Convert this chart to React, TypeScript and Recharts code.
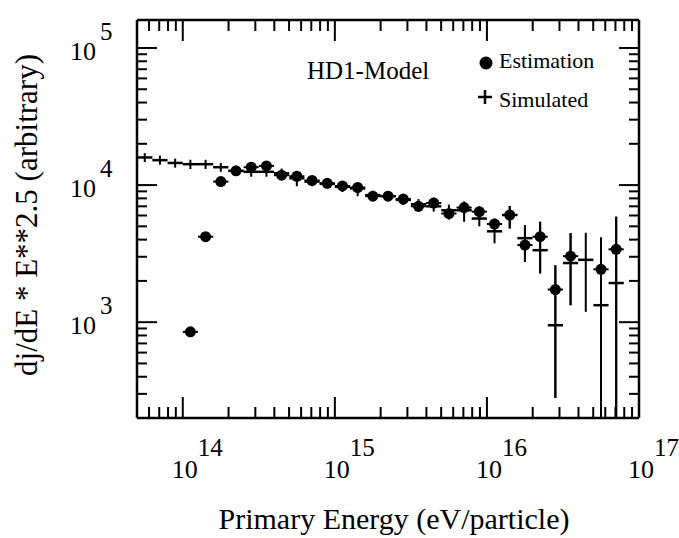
import { ScatterChart, Scatter, XAxis, YAxis, ErrorBar, Legend, Label, ReferenceLine } from "recharts";

// log10 of energy bin centres (eV)
const binLog = [
  13.75, 13.85, 13.95, 14.05, 14.15, 14.25, 14.35, 14.45, 14.55, 14.65, 14.75,
  14.85, 14.95, 15.05, 15.15, 15.25, 15.35, 15.45, 15.55, 15.65, 15.75, 15.85,
  15.95, 16.05, 16.15, 16.25, 16.35, 16.45, 16.55, 16.65, 16.75, 16.85,
];

// Estimation (filled circles)
const estValue = [
  null, null, null, 850, 4200, 10600, 12700, 13500, 13800, 11800, 11600,
  10800, 10300, 9850, 9600, 8300, 8300, 7900, 7000, 7400, 6200, 6850,
  6400, 5200, 6050, 3650, 4200, 1730, 3030, null, 2430, 3400,
];
const estLow = [
  null, null, null, 800, 3950, 9900, 11900, 12600, 12900, 11000, 10800,
  10000, 9550, 9100, 8850, 7650, 7650, 7250, 6400, 6750, 5600, 6150,
  5600, 4700, 4830, 2750, 2270, 280, 1330, null, 200, 200,
];
const estHigh = [
  null, null, null, 900, 4450, 11300, 13500, 14400, 14700, 12600, 12400,
  11600, 11100, 10600, 10400, 9000, 9000, 8600, 7650, 8100, 6850, 7600,
  7000, 5700, 7030, 5100, 5400, 2600, 4470, null, 4150, 5880,
];

// Simulated (crosses)
const simValue = [
  15900, 15200, 14500, 14200, 14200, 13500, 12700, 12500, 12500, 12200, 11200,
  10600, 10200, 9700, 9450, 8450, 8300, 7800, 7250, 7000, 6550, 6550,
  5700, 4600, 6050, 4100, 3350, 950, 2700, 2850, 1330, 1930,
];
const simLow = [
  14700, 14100, 13400, 13100, 13100, 12500, 11700, 11500, 11500, 11200, 9800,
  9800, 9400, 8900, 8300, 7800, 7650, 7150, 6600, 6400, 5900, 5400,
  5000, 3760, 4830, 2750, 2270, 280, 1330, 1190, 200, 200,
];
const simHigh = [
  17100, 16400, 15600, 15300, 15300, 14500, 13700, 13500, 13500, 13200, 12200,
  11400, 11000, 10500, 10200, 9100, 9000, 8450, 7900, 7600, 7200, 7500,
  6500, 5260, 7030, 5100, 5400, 2600, 4470, 4490, 4150, 5880,
];

const xDecades = [13, 14, 15, 16, 17];
const yDecades = [2, 3, 4, 5];
const xDomain = [5e13, 1e17];
const yDomain = [200, 160000];

const FONT = "'Liberation Serif', 'Times New Roman', serif";

const buildRows = (values, lows, highs) =>
  binLog
    .map((lg, i) => {
      const v = values[i];
      if (v == null) return null;
      const x = Math.pow(10, lg);
      return {
        x,
        y: v,
        xErr: [x - Math.pow(10, lg - 0.05), Math.pow(10, lg + 0.05) - x],
        yErr: [v - lows[i], highs[i] - v],
      };
    })
    .filter(Boolean);

const estData = buildRows(estValue, estLow, estHigh);
const simData = buildRows(simValue, simLow, simHigh);

const logTicks = (decades, domain) => {
  const out = [];
  decades.forEach((d) => {
    for (let m = 1; m <= 9; m++) {
      const v = m * Math.pow(10, d);
      if (v >= domain[0] * 0.999 && v <= domain[1] * 1.001) out.push(v);
    }
  });
  return out;
};

const xTicks = logTicks(xDecades, xDomain);
const yTicks = logTicks(yDecades, yDomain);

const isMajor = (v) => {
  const l = Math.log10(v);
  return Math.abs(l - Math.round(l)) < 1e-6;
};

// tick positions along the top and right edges of the frame
const topTickData = xTicks.map((v) => ({ x: v, y: yDomain[1], major: isMajor(v) }));
const rightTickData = yTicks.map((v) => ({ x: xDomain[1], y: v, major: isMajor(v) }));

const BottomTick = ({ x, y, payload }) => {
  const major = isMajor(payload.value);
  return (
    <g>
      <line x1={x} y1={y} x2={x} y2={y - (major ? 21 : 11)} stroke="#000" strokeWidth={2} />
      {major && (
        <g fontFamily={FONT} fill="#000">
          <text x={x + 2} y={y + 60} textAnchor="middle" fontSize={26}>10</text>
          <text x={x + 15} y={y + 38} fontSize={25}>{Math.round(Math.log10(payload.value))}</text>
        </g>
      )}
    </g>
  );
};

const LeftTick = ({ x, y, payload }) => {
  const major = isMajor(payload.value);
  return (
    <g>
      <line x1={x} y1={y} x2={x + (major ? 20 : 10)} y2={y} stroke="#000" strokeWidth={2} />
      {major && (
        <g fontFamily={FONT} fill="#000">
          <text x={x - 67} y={y + 12} fontSize={26}>10</text>
          <text x={x - 37} y={y - 8} fontSize={25}>{Math.round(Math.log10(payload.value))}</text>
        </g>
      )}
    </g>
  );
};

const TopTickMark = ({ cx, cy, payload }) => (
  <line x1={cx} y1={cy} x2={cx} y2={cy + (payload.major ? 21 : 11)} stroke="#000" strokeWidth={2} />
);
const RightTickMark = ({ cx, cy, payload }) => (
  <line x1={cx} y1={cy} x2={cx - (payload.major ? 20 : 10)} y2={cy} stroke="#000" strokeWidth={2} />
);

const Dot = ({ cx, cy }) => <circle cx={cx} cy={cy} r={5.5} fill="#000" />;
const NoDot = () => <g />;

const LegendBox = () => (
  <svg width={679} height={130} style={{ display: "block" }}>
    <g fontFamily={FONT} fill="#000">
      <text x={307} y={79} fontSize={25}>HD1-Model</text>
      <circle cx={486} cy={63} r={6.5} fill="#000" />
      <text x={499} y={68} fontSize={22}>Estimation</text>
      <line x1={478} y1={97} x2={492} y2={97} stroke="#000" strokeWidth={2.5} />
      <line x1={485} y1={90} x2={485} y2={104} stroke="#000" strokeWidth={2.5} />
      <text x={499} y={107} fontSize={22}>Simulated</text>
    </g>
  </svg>
);

const axisLine = { stroke: "#000", strokeWidth: 2.5 };

export default function App() {
  return (
    <div style={{ position: "absolute", left: 0, top: 0 }}>
      <ScatterChart width={679} height={538} margin={{ top: 20, right: 40, bottom: 119, left: 136 }}>
        <XAxis
          xAxisId="b"
          type="number"
          dataKey="x"
          scale="log"
          domain={xDomain}
          allowDataOverflow
          ticks={xTicks}
          interval={0}
          height={1}
          tickSize={0}
          tickMargin={0}
          tickLine={false}
          axisLine={axisLine}
          tick={BottomTick}
        >
          <Label
            content={({ viewBox }) => (
              <text
                x={viewBox.x + viewBox.width / 2 + 6}
                y={viewBox.y + 111}
                textAnchor="middle"
                fontFamily={FONT}
                fontSize={30}
                fill="#000"
              >
                Primary Energy (eV/particle)
              </text>
            )}
          />
        </XAxis>
        <YAxis
          yAxisId="l"
          type="number"
          dataKey="y"
          scale="log"
          domain={yDomain}
          allowDataOverflow
          ticks={yTicks}
          interval={0}
          width={1}
          tickSize={0}
          tickMargin={0}
          tickLine={false}
          axisLine={axisLine}
          tick={LeftTick}
        >
          <Label
            content={() => (
              <text
                x={37}
                y={215}
                transform="rotate(-90, 37, 215)"
                textAnchor="middle"
                fontFamily={FONT}
                fontSize={31}
                fill="#000"
              >
                dj/dE * E**2.5 (arbitrary)
              </text>
            )}
          />
        </YAxis>
        {/* top and right edges of the frame */}
        <ReferenceLine xAxisId="b" yAxisId="l" y={yDomain[1]} stroke="#000" strokeWidth={2.5} />
        <ReferenceLine xAxisId="b" yAxisId="l" x={xDomain[1]} stroke="#000" strokeWidth={2.5} />
        <Legend
          layout="vertical"
          align="center"
          verticalAlign="middle"
          wrapperStyle={{ left: 0, top: 0, width: 679, height: 130 }}
          content={LegendBox}
        />
        <Scatter
          data={topTickData}
          xAxisId="b"
          yAxisId="l"
          shape={TopTickMark}
          legendType="none"
          isAnimationActive={false}
        />
        <Scatter
          data={rightTickData}
          xAxisId="b"
          yAxisId="l"
          shape={RightTickMark}
          legendType="none"
          isAnimationActive={false}
        />
        <Scatter
          name="Simulated"
          data={simData}
          xAxisId="b"
          yAxisId="l"
          shape={NoDot}
          isAnimationActive={false}
        >
          <ErrorBar dataKey="xErr" direction="x" width={0} stroke="#000" strokeWidth={2.5} />
          <ErrorBar dataKey="yErr" direction="y" width={0} stroke="#000" strokeWidth={2} />
        </Scatter>
        <Scatter
          name="Estimation"
          data={estData}
          xAxisId="b"
          yAxisId="l"
          shape={Dot}
          isAnimationActive={false}
        >
          <ErrorBar dataKey="xErr" direction="x" width={0} stroke="#000" strokeWidth={2} />
          <ErrorBar dataKey="yErr" direction="y" width={0} stroke="#000" strokeWidth={2} />
        </Scatter>
      </ScatterChart>
    </div>
  );
}
